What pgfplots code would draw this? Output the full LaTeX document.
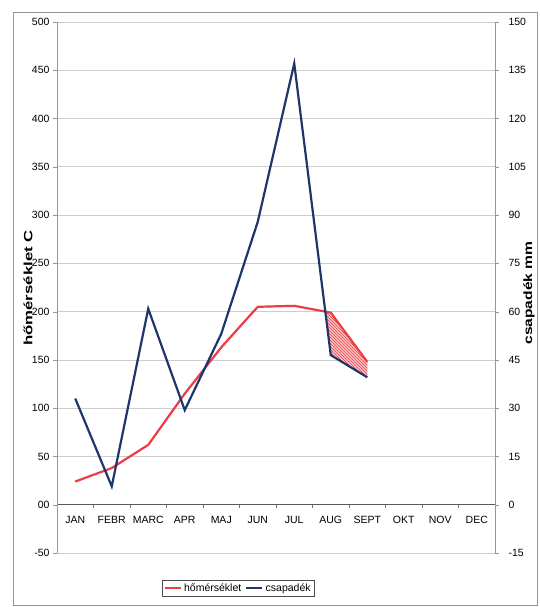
\documentclass[border=0pt]{standalone}
\usepackage{pgfplots}
\pgfplotsset{compat=1.18}
\usetikzlibrary{patterns}
\usepackage{fontspec}
\setmainfont{Liberation Sans}
\definecolor{tred}{RGB}{234,62,66}
\definecolor{pblue}{RGB}{30,54,108}
\definecolor{gridc}{RGB}{205,205,205}
\definecolor{axc}{RGB}{150,150,150}
\begin{document}
\begin{tikzpicture}[x=1pt,y=1pt]
\useasboundingbox (-57,-54) rectangle (482,553);
\draw[axc, line width=0.8pt] (-44,-52) rectangle (480,541);
\begin{axis}[
  at={(0,0)}, anchor=south west, scale only axis, width=438pt, height=531pt,
  xmin=-0.5, xmax=11.5, ymin=-50, ymax=500,
  axis y line*=left, axis x line*=middle,
  x axis line style={-, draw=black!65, line width=0.7pt},
  y axis line style={-, draw=axc, line width=0.7pt},
  xtick={0,...,11},
  xticklabels={JAN,FEBR,MARC,APR,MAJ,JUN,JUL,AUG,SEPT,OKT,NOV,DEC},
  major x tick style={draw=none},
  minor xtick={0.5,1.5,...,10.5},
  minor x tick style={draw=black!55},
  minor tick length=3pt,
  xticklabel style={font=\fontsize{10.5}{10.5}\selectfont, yshift=-4pt},
  ytick={-50,0,50,...,500},
  yticklabels={-50,00,50,100,150,200,250,300,350,400,450,500},
  yticklabel style={font=\fontsize{10.5}{10.5}\selectfont},
  tick align=outside, major tick length=4pt,
  major y tick style={draw=axc},
  ymajorgrids, grid style={gridc, line width=0.7pt},
  legend columns=2,
  legend style={at={(0.2397,-0.0508)}, anchor=north west, draw=black!70,
    font=\fontsize{10.5}{10.5}\selectfont, inner sep=1.5pt,
    /tikz/every even column/.append style={column sep=2pt}},
  legend image code/.code={\draw[#1, line width=2.4pt] (0pt,0pt) -- (16pt,0pt);},
]
% hatched area where temperature curve lies above precipitation curve
\addplot[forget plot, draw=none, fill=tred!30] coordinates {
  (6.851,200) (7,199) (8,148) (8,132) (7,155)} -- cycle;
\addplot[forget plot, draw=none, pattern=north west lines, pattern color=tred] coordinates {
  (6.851,200) (7,199) (8,148) (8,132) (7,155)} -- cycle;
\addplot[tred, line width=2.2pt] coordinates {
  (0,24) (1,38) (2,62) (3,115) (4,163) (5,205) (6,206) (7,199) (8,148)};
\addlegendentry{hőmérséklet}
% precipitation, in units of the left scale (500 = 150 mm on the right)
\addplot[pblue, line width=2.2pt] coordinates {
  (0,110) (1,19) (2,203) (3,98) (4,177) (5,293) (6,457) (7,155) (8,132)};
\addlegendentry{csapadék}
\end{axis}
\begin{axis}[
  at={(0,0)}, anchor=south west, scale only axis, width=438pt, height=531pt,
  xmin=-0.5, xmax=11.5, ymin=-15, ymax=150,
  axis y line*=right, axis x line=none,
  y axis line style={-, draw=axc, line width=0.7pt},
  ytick={-15,0,15,...,150},
  yticklabel style={font=\fontsize{10.5}{10.5}\selectfont, xshift=6pt},
  /pgf/number format/assume math mode=true,
  tick align=outside, major tick length=4pt,
  major y tick style={draw=axc},
]
\end{axis}
\node[rotate=90] at (-29,265) {\fontsize{12}{12}\selectfont\bfseries\scalebox{1.4}[1]{hőmérséklet C}};
\node[rotate=90] at (472,260) {\fontsize{12}{12}\selectfont\bfseries\scalebox{1.3}[1]{csapadék mm}};
\end{tikzpicture}
\end{document}
